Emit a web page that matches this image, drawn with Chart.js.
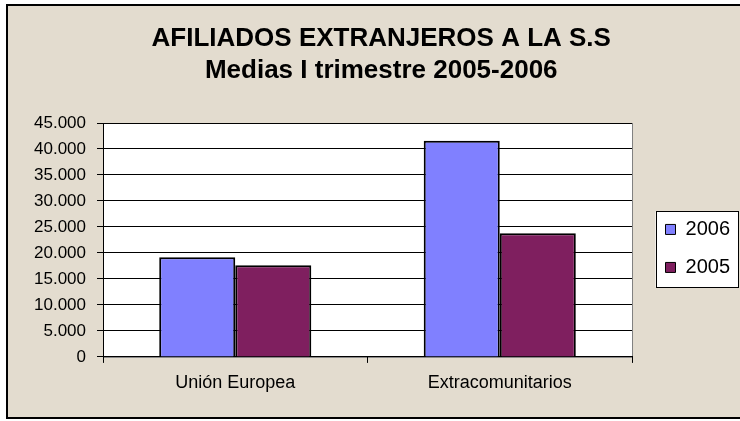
<!DOCTYPE html>
<html>
<head>
<meta charset="utf-8">
<script src="https://cdn.jsdelivr.net/npm/chart.js@4.4.0/dist/chart.umd.min.js"></script>
<style>
  html, body { margin: 0; padding: 0; background: #fff; }
  #wrap { width: 740px; height: 421px; }
</style>
</head>
<body>
<div id="wrap"><canvas id="c" width="740" height="421"></canvas></div>
<script>
// datos
const categorias = ['Unión Europea', 'Extracomunitarios'];
const series = ['2006', '2005'];
const afiliados2006 = [19150, 41600];
const afiliados2005 = [17650, 23800];
const titulo = ['AFILIADOS EXTRANJEROS A LA S.S', 'Medias I trimestre 2005-2006'];
const ejeMax = 45000;
const ejePaso = 5000;

const miles = v => String(v).replace(/\B(?=(\d{3})+(?!\d))/g, '.');

Chart.defaults.font.family = '"Liberation Sans", Arial, sans-serif';
Chart.defaults.color = '#000';

// fondo, marco y caja de la leyenda
const fondo = {
  id: 'fondo',
  afterLayout(chart) {
    const lg = chart.legend;
    lg.left += 15.5; lg.right += 15.5;
    lg.top += 8.5; lg.bottom += 8.5;
    // el titulo va algo a la derecha del centro
    const t = chart.titleBlock;
    t.left += 11; t.right += 11;
  },
  beforeDraw(chart) {
    const ctx = chart.ctx, a = chart.chartArea;
    ctx.save();
    ctx.fillStyle = '#fff';
    ctx.fillRect(0, 0, chart.width, chart.height);
    ctx.fillStyle = '#e3dccf';
    ctx.fillRect(6, 4, chart.width, 415);
    ctx.strokeStyle = '#000';
    ctx.lineWidth = 2;
    ctx.beginPath();
    ctx.moveTo(chart.width + 2, 5); ctx.lineTo(7, 5); ctx.lineTo(7, 418); ctx.lineTo(chart.width + 2, 418);
    ctx.stroke();
    // area del grafico
    ctx.fillStyle = '#fff';
    ctx.fillRect(a.left, a.top, a.right - a.left, a.bottom - a.top);
    ctx.strokeStyle = '#808080';
    ctx.lineWidth = 1;
    ctx.strokeRect(a.left + 0.5, a.top + 0.5, a.right - a.left, a.bottom - a.top);
    // caja de la leyenda
    const lg = chart.legend, pad = 18;
    const col = lg.columnSizes[0];
    const y0 = (lg.top + pad + lg.bottom - col.height) / 2;
    const x0 = lg.left + pad - 10;
    ctx.fillStyle = '#fff';
    ctx.fillRect(x0, y0 - 8, col.width + 18, col.height);
    ctx.strokeStyle = '#000';
    ctx.strokeRect(Math.round(x0) + 0.5, Math.round(y0 - 8) + 0.5, Math.round(col.width + 18), Math.round(col.height));
    ctx.restore();
  }
};

new Chart(document.getElementById('c'), {
  type: 'bar',
  data: {
    labels: categorias,
    datasets: [
      { label: series[0], data: afiliados2006, backgroundColor: '#8080ff', borderColor: '#000', borderWidth: 2 },
      { label: series[1], data: afiliados2005, backgroundColor: '#7f1f5f', borderColor: '#000', borderWidth: 2 }
    ]
  },
  options: {
    responsive: false,
    animation: false,
    layout: { padding: { top: 8, left: 16, right: 15.5, bottom: 18.5 } },
    datasets: { bar: { categoryPercentage: 0.575, barPercentage: 1 } },
    plugins: {
      title: {
        display: true,
        text: titulo,
        color: '#000',
        font: { size: 26, weight: 'bold', lineHeight: 1.25 },
        padding: { top: 14.25, bottom: 35.75 }
      },
      legend: {
        position: 'right',
        fullSize: false,
        labels: {
          color: '#000',
          font: { size: 20 },
          boxWidth: 10,
          boxHeight: 10,
          padding: 18,
          generateLabels(chart) {
            return Chart.defaults.plugins.legend.labels.generateLabels(chart)
              .map(it => ({ ...it, lineWidth: 1 }));
          }
        }
      },
      tooltip: { enabled: false }
    },
    scales: {
      x: {
        grid: { drawOnChartArea: false, drawTicks: true, tickLength: 6, color: '#000' },
        border: { color: '#000', width: 1 },
        ticks: { font: { size: 18 }, padding: 9, color: '#000' }
      },
      y: {
        min: 0,
        max: ejeMax,
        afterFit(scale) { scale.width = 87; },
        grid: { color: '#000', tickLength: 6 },
        border: { color: '#000', width: 1 },
        ticks: { stepSize: ejePaso, font: { size: 17 }, padding: 11, color: '#000', callback: v => miles(v) }
      }
    }
  },
  plugins: [fondo]
});
</script>
</body>
</html>
